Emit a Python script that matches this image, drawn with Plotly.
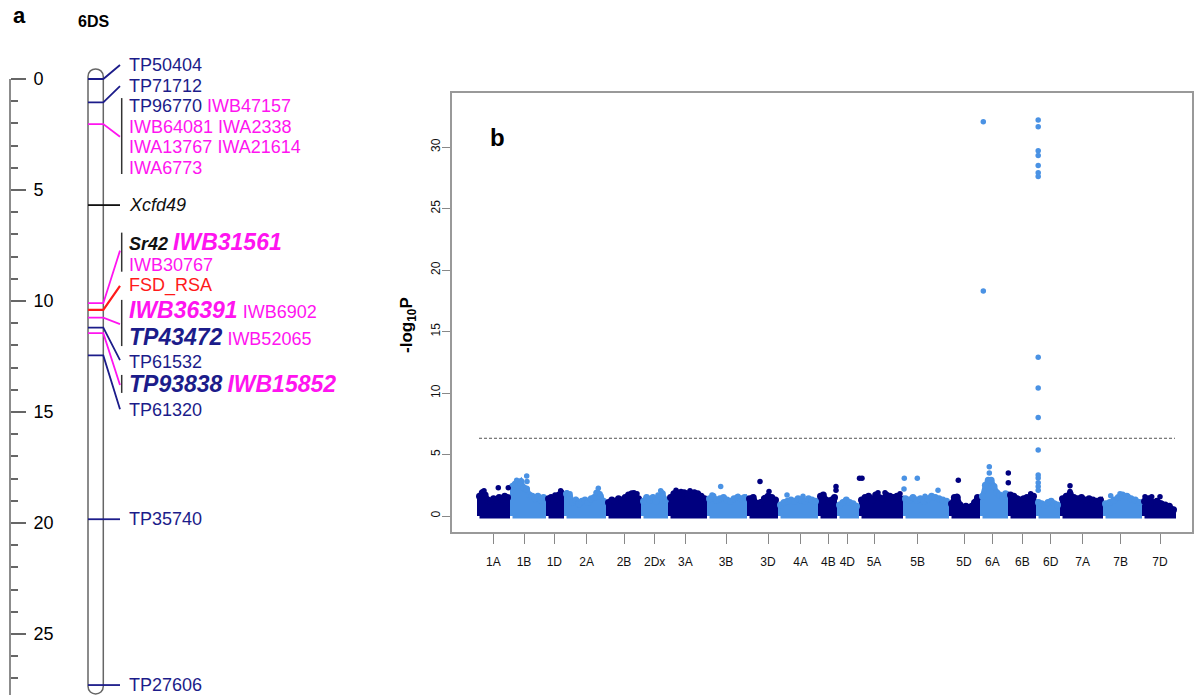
import plotly.graph_objects as go

# ---------------- colours ----------------
NAVY = "#1c1c8a"
MAG = "#ff14f0"
RED = "#ff1a1a"
BLACK = "#111111"
DARK = "#00007f"
LIGHT = "#4a92e4"

# ---------------- panel a : 6DS genetic map (cM) ----------------
map_tick_vals = [0, 5, 10, 15, 20, 25]
map_minor_vals = list(range(0, 28))
chrom_start_cm = -0.1
chrom_end_cm = 27.35
axis_end_cm = 27.75

marker_pos = [0.0, 1.05, 2.03, 5.68, 10.1, 10.4, 10.75, 11.2, 11.45, 12.45, 19.83, 27.3]
marker_color = [NAVY, NAVY, MAG, BLACK, MAG, RED, MAG, NAVY, MAG, NAVY, NAVY, NAVY]
marker_label_pos = [-0.63, 0.32, 2.6, 5.68, 7.73, 9.32, 11.04, 12.66, 13.78, 14.88, 19.83, 27.3]

bracket_top = [0.86, 6.92, 9.95, 13.33]
bracket_bottom = [4.28, 8.68, 12.03, 14.14]


def s(txt, color, big=False, b=False, i=False):
    st = "color:%s" % color
    if big:
        st += ";font-size:23px"
    t = txt
    if b:
        t = "<b>%s</b>" % t
    if i:
        t = "<i>%s</i>" % t
    return "<span style='%s'>%s</span>" % (st, t)


row_pos = [-0.63, 0.32, 1.22, 2.15, 3.08, 4.02, 5.68, 7.33, 8.38, 9.32,
           10.4, 11.64, 12.73, 13.74, 14.91, 19.83, 27.3]
row_text = [
    s("TP50404", NAVY),
    s("TP71712", NAVY),
    s("TP96770", NAVY) + " " + s("IWB47157", MAG),
    s("IWB64081 IWA2338", MAG),
    s("IWA13767 IWA21614", MAG),
    s("IWA6773", MAG),
    s("Xcfd49", BLACK, i=True),
    s("Sr42", BLACK, b=True, i=True) + " " + s("IWB31561", MAG, big=True, b=True, i=True),
    s("IWB30767", MAG),
    s("FSD_RSA", RED),
    s("IWB36391", MAG, big=True, b=True, i=True) + " " + s("IWB6902", MAG),
    s("TP43472", NAVY, big=True, b=True, i=True) + " " + s("IWB52065", MAG),
    s("TP61532", NAVY),
    s("TP93838", NAVY, big=True, b=True, i=True) + " " + s("IWB15852", MAG, big=True, b=True, i=True),
    s("TP61320", NAVY),
    s("TP35740", NAVY),
    s("TP27606", NAVY),
]

# ---------------- panel b : Manhattan plot ----------------
chr_names = ["1A", "1B", "1D", "2A", "2B", "2Dx", "3A", "3B", "3D", "4A", "4B",
             "4D", "5A", "5B", "5D", "6A", "6B", "6D", "7A", "7B", "7D"]
chr_len = [33, 36, 18, 42, 35, 27, 39, 40, 31, 40, 19, 22, 44, 46, 31, 28, 28, 24, 43, 39, 34]
chr_tick = [16.3, 47, 77.3, 109.7, 147, 177.7, 208.3, 249, 291, 323.7, 351.3,
            370.3, 397, 440.7, 487, 515.3, 545.3, 573.7, 605.7, 643.7, 683]
chr_env = [
    [1.6, 1.9, 1.7, 1.3, 1.2, 1.4, 1.3, 1.5, 1.4, 1.6, 1.5],
    [2.4, 2.6, 2.5, 2.8, 2.3, 2.2, 1.7, 1.6, 1.4, 1.6, 1.3, 1.5],
    [1.4, 1.5, 1.2, 1.4, 1.7, 1.8],
    [1.8, 1.6, 1.1, 1.3, 1.0, 1.2, 1.3, 1.1, 1.4, 1.5, 1.9, 1.6, 1.2],
    [1.1, 1.3, 1.2, 1.4, 1.3, 1.5, 1.7, 1.8, 1.7, 1.4],
    [1.2, 1.5, 1.3, 1.5, 1.2, 1.6, 1.8, 1.3],
    [1.5, 1.8, 1.9, 1.6, 1.9, 1.8, 1.7, 1.9, 1.8, 1.6, 1.4],
    [1.4, 1.6, 1.3, 1.4, 1.5, 1.3, 1.2, 1.4, 1.5, 1.4, 1.5],
    [1.4, 1.5, 1.0, 1.1, 1.4, 1.6, 1.5, 1.3],
    [0.9, 1.1, 1.2, 1.3, 1.2, 1.4, 1.3, 1.2, 1.4, 1.3, 1.2],
    [1.6, 1.7, 1.3, 1.2, 1.3, 1.5],
    [0.9, 1.1, 1.3, 1.1, 1.0, 0.8],
    [1.3, 1.5, 1.6, 1.3, 1.7, 1.5, 1.4, 1.7, 1.6, 1.5, 1.6, 1.4],
    [1.4, 1.3, 1.5, 1.3, 1.4, 1.2, 1.4, 1.6, 1.5, 1.4, 1.3, 1.2],
    [1.0, 1.5, 1.5, 0.9, 0.7, 0.8, 0.7, 0.8, 1.1, 1.5],
    [1.6, 2.5, 2.9, 2.9, 2.4, 1.9, 1.7, 1.6, 1.8],
    [1.7, 1.6, 1.4, 1.3, 1.4, 1.5, 1.3, 1.6],
    [1.1, 1.0, 0.9, 1.1, 1.2, 1.0, 0.9],
    [1.4, 1.6, 1.8, 1.5, 1.4, 1.5, 1.3, 1.4, 1.3, 1.2, 1.3],
    [1.0, 1.1, 1.3, 1.5, 1.7, 1.6, 1.4, 1.3, 1.1],
    [1.2, 1.4, 1.1, 1.2, 1.0, 0.9, 0.8, 0.5],
]

pt_chr = (["1A"] * 3 + ["1B"] * 5 + ["1D"] * 2 + ["2A"] * 5 + ["2B"] * 2 + ["2Dx"] * 2 +
          ["3A"] * 3 + ["3B"] * 3 + ["3D"] * 3 + ["4A"] * 2 + ["4B"] * 2 + ["5A"] * 5 +
          ["5B"] * 5 + ["5D"] * 2 + ["6A"] * 4 + ["6B"] * 3 + ["6D"] * 16 + ["7A"] * 2 +
          ["7B"] * 3 + ["7D"] * 3)
pt_off = [7, 21.3, 31.3,
          6.7, 10, 16.7, 17, 3,
          14.7, 9,
          3, 6, 34.3, 32, 36,
          28, 31,
          19.7, 17,
          8, 13, 22,
          13.7, 5, 31,
          13, 22, 18,
          9, 25,
          18, 18,
          0.5, 3, 19, 26, 41,
          1.3, 14.3, 1, 35, 22,
          9.3, 8,
          3.3, 3.3, 9.3, 9.3,
          0.3, 0.3, 22.7,
          2.2, 2.2, 2.2, 2.2, 2.2, 2.2, 2.2, 2.2, 2.2, 2.2, 2.2, 2.2, 2.2, 2.2, 2.2, 2.2,
          10, 10,
          7.7, 17, 25,
          3, 9.7, 18]
pt_val = [2.06, 2.3, 2.3,
          2.9, 2.65, 3.25, 2.8, 2.5,
          2.06, 1.7,
          1.9, 1.8, 2.25, 1.9, 1.8,
          1.9, 1.8,
          2.06, 1.7,
          2.1, 2.0, 2.05,
          2.4, 1.7, 1.6,
          2.8, 2.0, 1.5,
          1.7, 1.6,
          2.4, 2.1,
          3.06, 3.06, 1.9, 1.9, 1.8,
          3.06, 3.06, 2.2, 2.1, 1.6,
          2.9, 1.6,
          32.06, 18.3, 4.0, 3.5,
          3.5, 2.7, 1.8,
          32.2, 31.65, 29.7, 29.3, 28.5, 27.9, 27.6, 12.9, 10.4, 8.0, 5.37, 3.33, 3.1, 2.7, 2.4, 2.1,
          2.45, 2.0,
          1.65, 1.8, 1.6,
          1.57, 1.57, 1.57]
threshold = 6.32

fig = go.Figure()

# ---- panel a (x3/y3) ----
chrom_path = ("M88,{a} C88,{a2} 103.3,{a2} 103.3,{a} L103.3,{b} C103.3,{b2} 88,{b2} 88,{b} Z"
              .format(a=chrom_start_cm, a2=chrom_start_cm - 0.47,
                      b=chrom_end_cm, b2=chrom_end_cm + 0.47))
fig.add_shape(type="path", path=chrom_path, xref="x3", yref="y3",
              line=dict(color="#666666", width=1.5), fillcolor="white", layer="below")

fig.add_trace(go.Scatter(x=[10, 10], y=[0, axis_end_cm], mode="lines",
                         line=dict(color="#666666", width=1.5), xaxis="x3", yaxis="y3",
                         hoverinfo="skip", showlegend=False))
bx, by = [], []
for t, b in zip(bracket_top, bracket_bottom):
    bx += [121.7, 121.7, None]
    by += [t, b, None]
fig.add_trace(go.Scatter(x=bx, y=by, mode="lines", line=dict(color="#333333", width=1.5),
                         xaxis="x3", yaxis="y3", hoverinfo="skip", showlegend=False))
for p, c, lp in zip(marker_pos, marker_color, marker_label_pos):
    fig.add_trace(go.Scatter(x=[88, 103.3, 120], y=[p, p, lp], mode="lines",
                             line=dict(color=c, width=2.2 if c == RED else 1.8),
                             xaxis="x3", yaxis="y3", hoverinfo="skip", showlegend=False))

annotations = []
for y, t in zip(row_pos, row_text):
    annotations.append(dict(x=127, y=y, xref="x3", yref="y3", text=t, showarrow=False,
                            xanchor="left", yanchor="middle",
                            font=dict(family="Liberation Sans, Arial", size=18)))

# ---- panel b ----
start = 0
env_x, env_y, env_c = [], [], []
for k, (name, ln, env) in enumerate(zip(chr_names, chr_len, chr_env)):
    col = DARK if k % 2 == 0 else LIGHT
    n = len(env)
    x0, x1 = start + 2.5, start + ln - 2.5
    xs = [x0 + (x1 - x0) * i / (n - 1) for i in range(n)]
    px = [x0] + xs + [x1, x0]
    py = [0] + list(env) + [0, 0]
    fig.add_trace(go.Scatter(x=px, y=py, mode="lines", fill="toself", fillcolor=col,
                             line=dict(color=col, width=5), hoverinfo="skip", showlegend=False))
    env_x += xs
    env_y += list(env)
    env_c += [col] * n
    start += ln

# dots on the top edge of each chromosome cloud
fig.add_trace(go.Scatter(x=env_x, y=env_y, mode="markers",
                         marker=dict(color=env_c, size=7, line=dict(width=0)),
                         hoverinfo="skip", showlegend=False))

chr_start = {}
acc = 0
for name, ln in zip(chr_names, chr_len):
    chr_start[name] = acc
    acc += ln
px_, py_, pc_ = [], [], []
for c, o, v in zip(pt_chr, pt_off, pt_val):
    px_.append(chr_start[c] + o)
    py_.append(v)
    pc_.append(DARK if chr_names.index(c) % 2 == 0 else LIGHT)
fig.add_trace(go.Scatter(x=px_, y=py_, mode="markers",
                         marker=dict(color=pc_, size=5.5, line=dict(width=0)),
                         hoverinfo="skip", showlegend=False))

fig.add_trace(go.Scatter(x=[2, acc - 1], y=[threshold, threshold], mode="lines",
                         line=dict(color="#555555", width=1, dash="3px,2px"),
                         hoverinfo="skip", showlegend=False))

W, H = 1203, 695
free_text = [
    (19, 16, "<b>a</b>", 22, 0),
    (93, 22, "<b>6DS</b>", 16, 0),
    (498, 137, "<b>b</b>", 24, 0),
    (408, 325, "<b>-log<sub>10</sub>P</b>", 17, -90),
]
for x, y, t, sz, ang in free_text:
    annotations.append(dict(x=x / W, y=1 - y / H, xref="paper", yref="paper", text=t,
                            showarrow=False, textangle=ang, xanchor="center", yanchor="middle",
                            font=dict(family="Liberation Sans, Arial", size=sz, color="black")))

fig.update_layout(
    width=W, height=H, margin=dict(l=0, r=0, t=0, b=0),
    paper_bgcolor="white", plot_bgcolor="white", showlegend=False,
    annotations=annotations,
    xaxis=dict(domain=[452 / W, 1192 / W], range=[-25, 715], showgrid=False, zeroline=False,
               showline=True, mirror=True, linecolor="#999999", linewidth=1.5,
               ticks="outside", ticklen=10, tickcolor="#888888", tickwidth=1.2,
               tickmode="array", tickvals=chr_tick, ticktext=chr_names,
               ticklabelstandoff=8,
               tickfont=dict(family="Liberation Sans Narrow, Arial Narrow, Liberation Sans", size=12,
                             color="#111111")),
    yaxis=dict(domain=[1 - 532 / H, 1 - 93 / H], range=[-1.3, 34.39], showgrid=False,
               zeroline=False, showline=True, mirror=True, linecolor="#999999", linewidth=1.5,
               ticks="outside", ticklen=8, tickcolor="#888888", tickwidth=1.2,
               tickvals=[0, 5, 10, 15, 20, 25, 30], tickangle=-90, ticklabelstandoff=-3,
               tickfont=dict(family="Liberation Sans, Arial", size=12, color="#111111")),
    xaxis3=dict(domain=[0, 397 / W], range=[0, 397], visible=False, anchor="y3"),
    yaxis3=dict(domain=[0, 1], range=[(H - 79) / 22.2, -79 / 22.2], anchor="free",
                position=10 / W, side="right", showgrid=False, zeroline=False, showline=False,
                ticks="outside", ticklen=15, tickwidth=1.5, tickcolor="#666666",
                tickmode="array", tickvals=map_tick_vals,
                minor=dict(ticks="outside", ticklen=7, tickwidth=1.5, tickcolor="#666666",
                           tickvals=map_minor_vals),
                ticklabelstandoff=4,
                tickfont=dict(family="Liberation Sans, Arial", size=18, color="black")),
)

fig.write_html("out.html", config={"displayModeBar": False},
               post_script="document.body.style.margin='0px';")
